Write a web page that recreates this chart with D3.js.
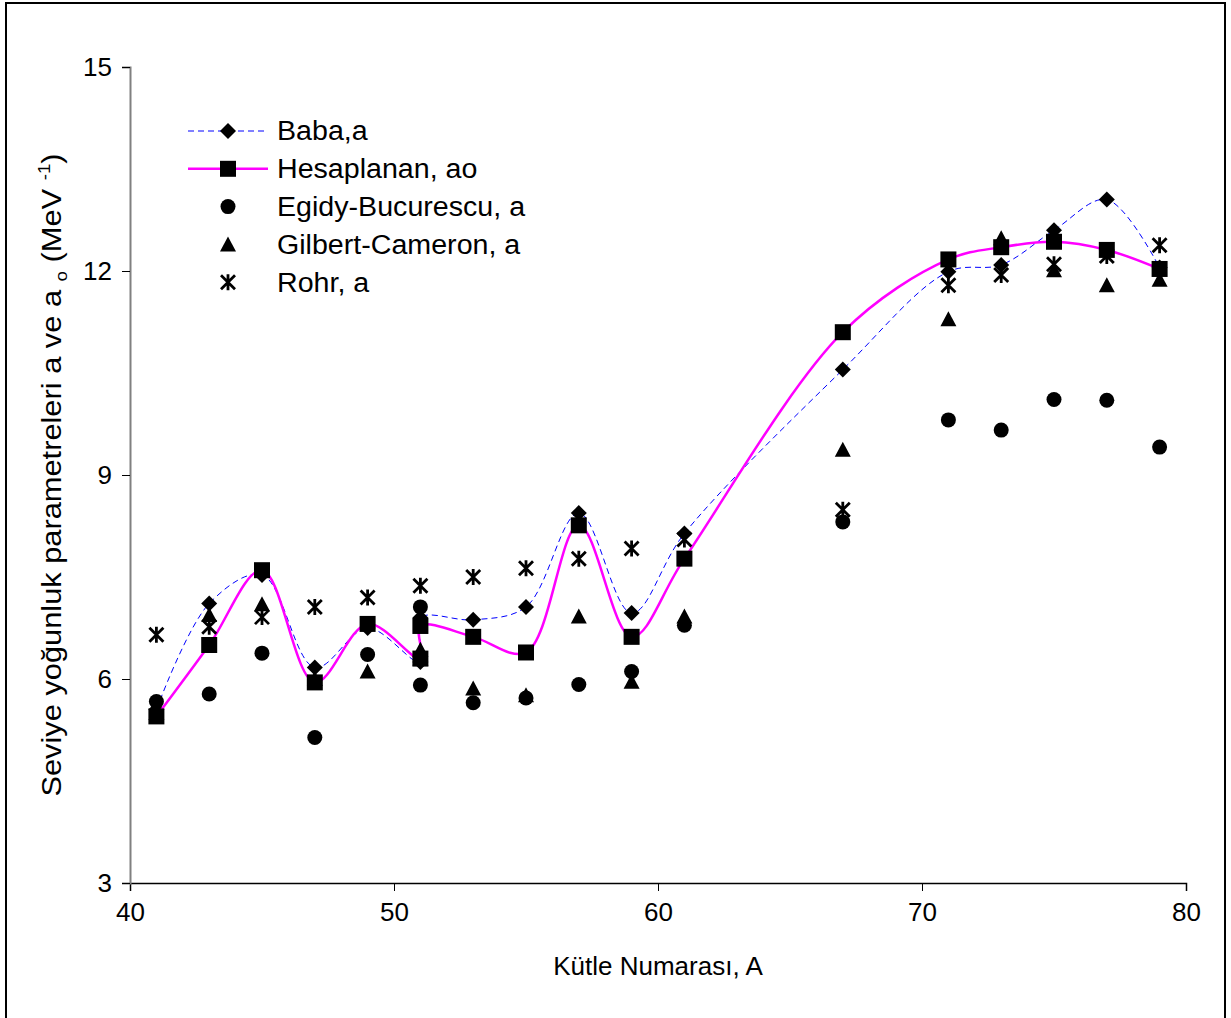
<!DOCTYPE html>
<html>
<head>
<meta charset="utf-8">
<script src="https://cdn.jsdelivr.net/npm/d3@7"></script>
<style>
  body { margin: 0; background: #fff; }
  text { font-family: "Liberation Sans", Arial, sans-serif; fill: #000; }
</style>
</head>
<body>
<script>
'use strict'

// mass number A (51 appears twice: two nuclei with A = 51)
var massNumbers = [41, 43, 45, 47, 49, 51, 51, 53, 55, 57, 59, 61, 67, 71, 73, 75, 77, 79]
var baba       = [5.55, 7.11, 7.53, 6.17, 6.75, 6.25, 6.90, 6.87, 7.06, 8.44, 6.97, 8.14, 10.55, 11.99, 12.09, 12.60, 13.05, 12.05]
var hesaplanan = [5.45, 6.50, 7.60, 5.95, 6.81, 6.30, 6.78, 6.62, 6.39, 8.26, 6.62, 7.77, 11.10, 12.17, 12.35, 12.43, 12.31, 12.03]
var egidy      = [5.67, 5.78, 6.38, 5.14, 6.36, 5.91, 7.06, 5.65, 5.72, 5.92, 6.11, 6.79, 8.31, 9.81, 9.66, 10.11, 10.10, 9.41]
var gilbert    = [5.50, 6.94, 7.10, 6.00, 6.11, 6.43, 6.30, 5.86, 5.76, 6.92, 5.96, 6.92, 9.37, 11.29, 12.48, 12.01, 11.79, 11.87]
var rohr       = [6.65, 6.77, 6.91, 7.06, 7.20, 7.37, null, 7.50, 7.63, 7.77, 7.92, 8.05, 8.49, 11.79, 11.94, 12.10, 12.22, 12.38]

var xTicks = [40, 50, 60, 70, 80]
var yTicks = [3, 6, 9, 12, 15]

var series = [
  { name: "Baba,a", values: baba, marker: "diamond", line: "dash" },
  { name: "Hesaplanan, ao", values: hesaplanan, marker: "square", line: "solid" },
  { name: "Egidy-Bucurescu, a", values: egidy, marker: "circle", line: null },
  { name: "Gilbert-Cameron, a", values: gilbert, marker: "triangle", line: null },
  { name: "Rohr, a", values: rohr, marker: "star", line: null }
]

var width = 1231
var height = 1018

var x = d3.scaleLinear().domain([40, 80]).range([130, 1186])
var y = d3.scaleLinear().domain([3, 15]).range([883, 67])

var svg = d3.select("body").append("svg")
  .attr("width", width)
  .attr("height", height)

// outer frame
svg.append("rect")
  .attr("x", 6).attr("y", 3)
  .attr("width", 1219).attr("height", 1030)
  .attr("fill", "none")
  .attr("stroke", "#000")
  .attr("stroke-width", 2)

// axes
var xAxis = svg.append("g")
  .attr("transform", "translate(0,883)")
  .call(d3.axisBottom(x).tickValues(xTicks).tickSize(8).tickPadding(12))
xAxis.select(".domain").attr("stroke", "#000").attr("stroke-width", 1.5)
xAxis.selectAll(".tick line").attr("stroke", "#000")
xAxis.selectAll("text").style("font-size", "26px")

var yAxis = svg.append("g")
  .attr("transform", "translate(130,0)")
  .call(d3.axisLeft(y).tickValues(yTicks).tickSize(8).tickPadding(10))
yAxis.select(".domain").attr("stroke", "#808080").attr("stroke-width", 2)
yAxis.selectAll(".tick line").attr("stroke", "#000")
yAxis.selectAll("text").style("font-size", "26px")

svg.append("text")
  .attr("x", 658).attr("y", 975)
  .attr("text-anchor", "middle")
  .style("font-size", "26px")
  .text("Kütle Numarası, A")

var yTitle = svg.append("text")
  .attr("transform", "translate(61,475) rotate(-90) scale(1.1,1)")
  .attr("text-anchor", "middle")
  .style("font-size", "28px")
yTitle.append("tspan").text("Seviye yoğunluk parametreleri a ve a ")
yTitle.append("tspan").attr("dy", 6).style("font-size", "17px").text("o")
yTitle.append("tspan").attr("dy", -6).text(" (MeV ")
yTitle.append("tspan").attr("dy", -11).style("font-size", "17px").text("-1")
yTitle.append("tspan").attr("dy", 11).text(")")

function drawMarker(g, type, cx, cy) {
  if (type === "diamond") {
    var d = 8
    g.append("path")
      .attr("d", "M" + cx + "," + (cy - d) + "L" + (cx + d) + "," + cy + "L" + cx + "," + (cy + d) + "L" + (cx - d) + "," + cy + "Z")
      .attr("fill", "#000")
  } else if (type === "square") {
    g.append("rect").attr("x", cx - 8).attr("y", cy - 8)
      .attr("width", 16).attr("height", 16).attr("fill", "#000")
  } else if (type === "circle") {
    g.append("circle").attr("cx", cx).attr("cy", cy).attr("r", 7.5).attr("fill", "#000")
  } else if (type === "triangle") {
    g.append("path").attr("d", "M" + cx + "," + (cy - 8) + "L" + (cx + 8) + "," + (cy + 7) + "L" + (cx - 8) + "," + (cy + 7) + "Z")
      .attr("fill", "#000")
  } else if (type === "star") {
    var s = 7
    g.append("path")
      .attr("d", "M" + (cx - s) + "," + (cy - s) + "L" + (cx + s) + "," + (cy + s) +
        "M" + (cx + s) + "," + (cy - s) + "L" + (cx - s) + "," + (cy + s) +
        "M" + cx + "," + (cy - s - 1) + "L" + cx + "," + (cy + s + 1))
      .attr("stroke", "#000").attr("stroke-width", 2.8).attr("fill", "none")
  }
}

var line = d3.line()
  .defined(function (d) { return d[1] != null })
  .x(function (d) { return x(d[0]) })
  .y(function (d) { return y(d[1]) })
  .curve(d3.curveCatmullRom.alpha(0.5))

series.forEach(function (s) {
  var pts = massNumbers.map(function (a, i) { return [a, s.values[i]] })
  var g = svg.append("g")
  if (s.line === "dash") {
    g.append("path").attr("d", line(pts)).attr("fill", "none")
      .attr("stroke", "#0000ff").attr("stroke-width", 1).attr("stroke-dasharray", "6,4")
  } else if (s.line === "solid") {
    g.append("path").attr("d", line(pts)).attr("fill", "none")
      .attr("stroke", "#ff00ff").attr("stroke-width", 2.5)
  }
  pts.forEach(function (p) {
    if (p[1] != null) drawMarker(g, s.marker, x(p[0]), y(p[1]))
  })
})

// legend
var legend = svg.append("g")
series.forEach(function (s, i) {
  var ly = 131 + i * 37.8
  if (s.line === "dash") {
    legend.append("line").attr("x1", 188).attr("x2", 268).attr("y1", ly).attr("y2", ly)
      .attr("stroke", "#0000ff").attr("stroke-width", 1).attr("stroke-dasharray", "6,4")
  } else if (s.line === "solid") {
    legend.append("line").attr("x1", 188).attr("x2", 268).attr("y1", ly).attr("y2", ly)
      .attr("stroke", "#ff00ff").attr("stroke-width", 2.5)
  }
  drawMarker(legend, s.marker, 228, ly)
  legend.append("text").attr("x", 277).attr("y", ly + 9.5)
    .attr("transform", "translate(277,0) scale(1.06,1) translate(-277,0)")
    .style("font-size", "27px").text(s.name)
})
</script>
</body>
</html>
